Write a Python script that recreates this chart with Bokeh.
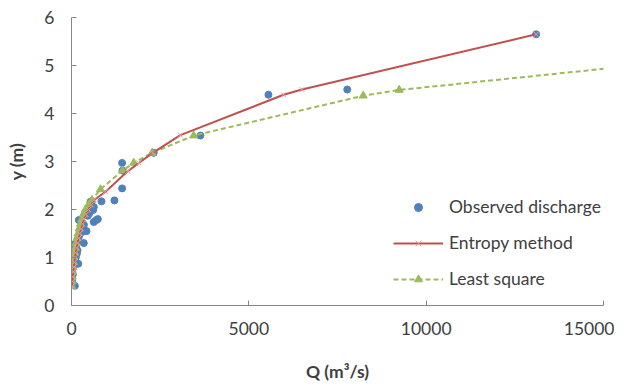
from bokeh.plotting import figure
from bokeh.models import Range1d, FixedTicker, Legend, LegendItem
from bokeh.embed import file_html
from bokeh.resources import INLINE

# Observed discharge
obs_q = [95, 30, 15, 10, 20, 40, 15, 5, 25, 60, 10, 190, 45, 20, 80, 120, 50, 150, 100, 170,
         80, 130, 60, 110, 347, 140, 180, 200, 230, 329, 423, 300, 350, 207, 628, 700, 742,
         460, 500, 611, 535, 629, 560, 535, 845, 1211, 1427, 1437, 1427, 2319, 3634, 5553,
         7775, 13100]
obs_y = [0.41, 0.45, 0.50, 0.55, 0.60, 0.65, 0.70, 0.75, 0.80, 0.82, 0.85, 0.87, 0.90, 0.95,
         0.98, 1.00, 1.05, 1.08, 1.12, 1.15, 1.18, 1.22, 1.25, 1.28, 1.30, 1.33, 1.38, 1.42,
         1.48, 1.54, 1.55, 1.60, 1.68, 1.78, 1.74, 1.78, 1.80, 1.87, 1.92, 1.99, 2.02, 2.05,
         2.10, 2.16, 2.17, 2.19, 2.44, 2.81, 2.97, 3.18, 3.54, 4.39, 4.50, 5.65]

# Entropy method
ent_q = [15, 25, 35, 50, 65, 80, 100, 120, 145, 170, 200, 235, 270, 310, 355, 410, 480, 560,
         640, 960, 1590, 1900, 2290, 3070, 5980, 6500, 13100]
ent_y = [0.40, 0.50, 0.60, 0.70, 0.80, 0.90, 1.00, 1.10, 1.20, 1.30, 1.40, 1.50, 1.60, 1.70,
         1.80, 1.90, 2.00, 2.10, 2.20, 2.37, 2.80, 2.97, 3.18, 3.55, 4.39, 4.50, 5.65]

# Least square
ls_q = [5, 12, 20, 30, 42, 55, 70, 88, 108, 130, 155, 185, 215, 250, 290, 335, 394, 480, 575,
        817, 1437, 1755, 2272, 3446, 8225, 9239, 24400]
ls_y = [0.40, 0.50, 0.60, 0.70, 0.80, 0.90, 1.00, 1.10, 1.20, 1.30, 1.40, 1.50, 1.60, 1.70,
        1.80, 1.90, 2.00, 2.10, 2.20, 2.42, 2.81, 2.97, 3.18, 3.54, 4.37, 4.49, 5.65]

x_ticks = [0, 5000, 10000, 15000]
y_ticks = [0, 1, 2, 3, 4, 5, 6]

FONT = "Lato"
TXT = "#404040"
FS = "17.5px"

p = figure(width=614, height=384, output_backend="svg", toolbar_location=None,
           x_range=Range1d(0, 15000), y_range=Range1d(0, 6),
           min_border_left=71, min_border_right=11, min_border_top=17, min_border_bottom=77)
p.outline_line_color = None
p.xgrid.visible = False
p.ygrid.visible = False
p.background_fill_color = "white"

for ax in (p.xaxis[0], p.yaxis[0]):
    ax.axis_line_color = "#868686"
    ax.major_tick_line_color = "#868686"
    ax.major_tick_in = 5
    ax.major_tick_out = 0
    ax.minor_tick_line_color = None
    ax.major_label_text_font = FONT
    ax.major_label_text_font_size = FS
    ax.major_label_text_color = TXT
    ax.axis_label_text_font = FONT
    ax.axis_label_text_font_style = "bold"
    ax.axis_label_text_font_size = FS
    ax.axis_label_text_color = TXT

p.xaxis.ticker = FixedTicker(ticks=x_ticks)
p.yaxis.ticker = FixedTicker(ticks=y_ticks)
p.xaxis.major_label_standoff = 16
p.yaxis.major_label_standoff = 17
p.xaxis.axis_label = "Q (m³/s)"
p.yaxis.axis_label = "y (m)"
p.xaxis.axis_label_standoff = 23
p.yaxis.axis_label_standoff = 14

obs = p.scatter(obs_q, obs_y, size=7, color="#4F81BD", marker="circle")
ls_line = p.line(ls_q, ls_y, line_color="#9BBB59", line_width=2, line_dash="5 3")
ls_pts = p.scatter(ls_q, ls_y, marker="triangle", size=8, color="#9BBB59")
ent_line = p.line(ent_q, ent_y, line_color="#C0504D", line_width=2)
ent_pts = p.scatter(ent_q, ent_y, marker="x", size=7, line_color="#E6A0A0", line_width=1)

legend = Legend(items=[
    LegendItem(label="Observed discharge", renderers=[obs]),
    LegendItem(label="Entropy method", renderers=[ent_line, ent_pts]),
    LegendItem(label="Least square", renderers=[ls_line, ls_pts]),
], location=(322, 16))
legend.border_line_color = None
legend.background_fill_alpha = 0
legend.padding = 0
legend.margin = 0
legend.glyph_width = 50
legend.glyph_height = 20
legend.label_height = 20
legend.spacing = 15
legend.label_standoff = 6
legend.label_text_font = FONT
legend.label_text_font_size = FS
legend.label_text_color = TXT
p.add_layout(legend, "center")

open("out.html", "w").write(file_html(p, INLINE))
